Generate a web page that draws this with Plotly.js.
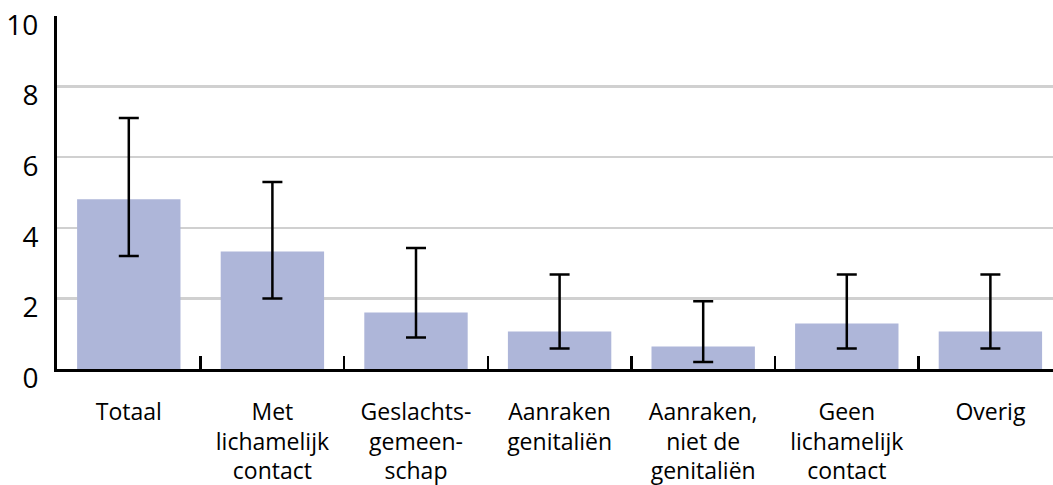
<!DOCTYPE html>
<html><head><meta charset="utf-8">
<script src="https://cdn.plot.ly/plotly-3.0.1.min.js"></script>
<style>html,body{margin:0;padding:0;background:#fff}#c{width:1053px;height:485px}</style>
</head><body><div id="c"></div>
<script>
const categories = ["Totaal","Met<br>lichamelijk<br>contact","Geslachts-<br>gemeen-<br>schap","Aanraken<br>genitaliën","Aanraken,<br>niet de<br>genitaliën","Geen<br>lichamelijk<br>contact","Overig"];
const values = [4.81, 3.33, 1.6, 1.06, 0.64, 1.29, 1.06];
const upper = [7.11, 5.3, 3.43, 2.68, 1.92, 2.68, 2.68];
const lower = [3.2, 2.0, 0.89, 0.58, 0.2, 0.58, 0.58];
const yTicks = [0, 2, 4, 6, 8, 10];

const errPlus = values.map((v,i)=>upper[i]-v);
const errMinus = values.map((v,i)=>v-lower[i]);
const font = "Open Sans, Lato, sans-serif";
const trace = {
  type: "bar", x: categories, y: values,
  marker: {color: "#aeb6d9"}, width: 0.72,
  error_y: {type: "data", symmetric: false, array: errPlus, arrayminus: errMinus,
    color: "#000", thickness: 2.5, width: 10}
};
const layout = {
  width: 1053, height: 485,
  margin: {l: 57, r: 0, t: 16, b: 116},
  paper_bgcolor: "#fff", plot_bgcolor: "#fff",
  showlegend: false,
  font: {family: font, color: "#000"},
  xaxis: {type: "category", range: [-0.5, 6.436], showline: true, linecolor: "#000", linewidth: 3,
    ticks: "inside", tickson: "boundaries", ticklen: 13, tickwidth: 2.5, tickcolor: "#000",
    tickfont: {size: 23, family: font}, ticklabelstandoff: 20, showgrid: false, fixedrange: true},
  yaxis: {range: [0, 10], tickvals: yTicks, ticktext: yTicks.map(String), showline: true, linecolor: "#000", linewidth: 3,
    gridcolor: "#d0d0d0", gridwidth: 2.5, zeroline: false, ticks: "",
    tickfont: {size: 28, family: font}, ticklabelstandoff: 10, ticklabelshift: 9, fixedrange: true}
};
Plotly.newPlot("c", [trace], layout, {displayModeBar: false, staticPlot: true});
</script></body></html>
